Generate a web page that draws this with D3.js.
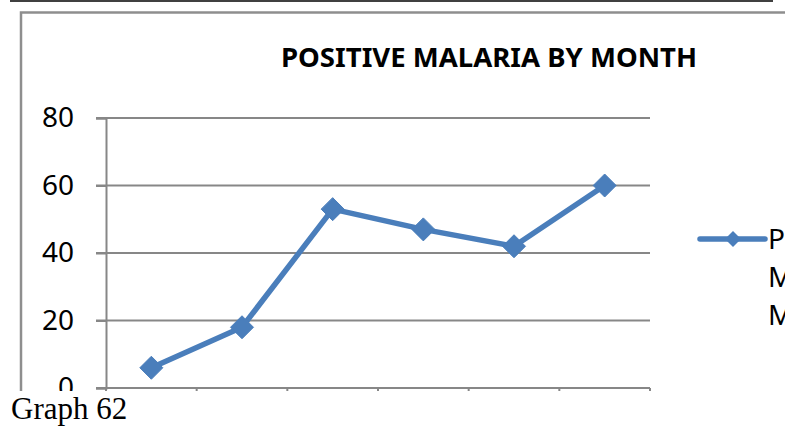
<!DOCTYPE html>
<html><head><meta charset="utf-8">
<script src="https://cdn.jsdelivr.net/npm/d3@7"></script>
<style>html,body{margin:0;padding:0;background:#fff;}svg{display:block;}</style>
</head><body>
<svg id="c" width="785" height="426"></svg>
<script>
const months = ["M1","M2","M3","M4","M5","M6"];
const positive = [6, 18, 53, 47, 42, 60];
const yTicks = [0, 20, 40, 60, 80];
const title = "POSITIVE MALARIA BY MONTH";
const legendLines = ["POSITIVE", "MALARIA BY", "MONTH"];
const caption = "Graph 62";

const svg = d3.select("#c");
const font = "'Noto Sans', 'Open Sans', sans-serif";
const grid = "#878787";
const blue = "#4A7EBB";

svg.append("defs").append("clipPath").attr("id","clip")
  .append("rect").attr("x",0).attr("y",0).attr("width",785).attr("height",391);

// top black rule
svg.append("line").attr("x1",10).attr("x2",773).attr("y1",1).attr("y2",1)
  .attr("stroke","#000").attr("stroke-width",1.6);

const g = svg.append("g").attr("clip-path","url(#clip)");

// chart border
g.append("path").attr("d","M21,420 L21,12.5 L790,12.5")
  .attr("fill","none").attr("stroke","#8e8e8e").attr("stroke-width",2.5);

const x = d3.scaleBand().domain(months).range([106, 650]);
const y = d3.scaleLinear().domain([0, 80]).range([388, 118]);

// title
g.append("text").attr("x",489).attr("y",67).attr("text-anchor","middle")
  .attr("font-family",font).attr("font-weight","bold").attr("font-size",26.5)
  .attr("textLength",416).attr("lengthAdjust","spacingAndGlyphs")
  .attr("fill","#000").text(title);

// gridlines
g.append("g").selectAll("line").data(yTicks.filter(d=>d>0)).join("line")
  .attr("x1",96).attr("x2",650).attr("y1",d=>y(d)).attr("y2",d=>y(d))
  .attr("stroke",grid).attr("stroke-width",2);

// y axis
const yAxis = d3.axisLeft(y).tickValues(yTicks).tickSize(10).tickPadding(22);
const ya = g.append("g").attr("transform","translate(106,0)").call(yAxis);
ya.select(".domain").attr("stroke",grid).attr("stroke-width",2);
ya.selectAll(".tick line").attr("stroke",grid).attr("stroke-width",2);
ya.selectAll(".tick text").attr("font-family",font).attr("font-size",28).attr("fill","#000");

// x axis
const xAxis = d3.axisBottom(x).tickSize(0).tickFormat("");
const xa = g.append("g").attr("transform","translate(0,388)").call(xAxis);
xa.select(".domain").attr("stroke","none");
g.append("line").attr("x1",96).attr("x2",650).attr("y1",388).attr("y2",388)
  .attr("stroke",grid).attr("stroke-width",2);
const bounds = months.map(m=>x(m)).concat([x.range()[1]]);
g.append("g").selectAll("line").data(bounds).join("line")
  .attr("x1",d=>d).attr("x2",d=>d).attr("y1",388).attr("y2",396)
  .attr("stroke",grid).attr("stroke-width",2);

// series line
const cx = m => x(m) + x.bandwidth()/2;
const line = d3.line().x((d,i)=>cx(months[i])).y(d=>y(d));
g.append("path").datum(positive).attr("d",line)
  .attr("fill","none").attr("stroke",blue).attr("stroke-width",5.5)
  .attr("stroke-linejoin","round").attr("stroke-linecap","round");

const diamond = r => `M0,${-r} L${r},0 L0,${r} L${-r},0 Z`;
g.append("g").selectAll("path").data(positive).join("path")
  .attr("transform",(d,i)=>`translate(${cx(months[i])},${y(d)})`)
  .attr("d",diamond(11.5)).attr("fill",blue).attr("stroke",blue).attr("stroke-width",1);

// legend
const lg = g.append("g");
lg.append("line").attr("x1",700).attr("x2",765).attr("y1",239).attr("y2",239)
  .attr("stroke",blue).attr("stroke-width",5.5).attr("stroke-linecap","round");
lg.append("path").attr("transform","translate(733,239)").attr("d",diamond(8)).attr("fill",blue);
lg.selectAll("text").data(legendLines).join("text")
  .attr("x",768).attr("y",(d,i)=>239 + i*38).attr("dy","0.36em")
  .attr("font-family",font).attr("font-size",28).attr("fill","#000").text(d=>d);

// caption
svg.append("text").attr("x",11).attr("y",419)
  .attr("font-family","'Liberation Serif','Times New Roman',serif").attr("font-size",31)
  .attr("fill","#000").text(caption);
</script>
</body></html>
